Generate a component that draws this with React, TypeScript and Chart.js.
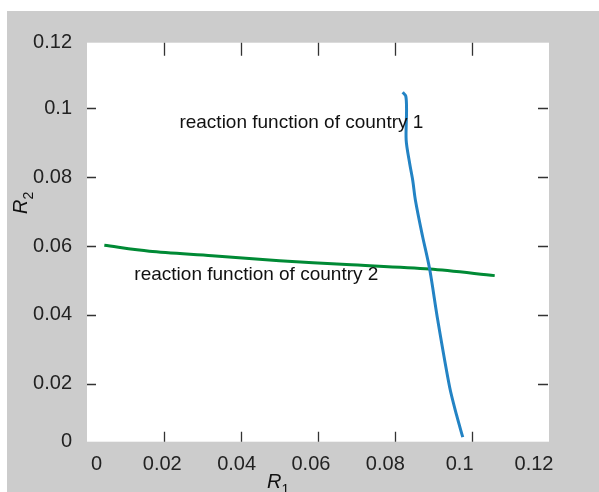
import React, { useEffect, useRef } from "react";
import { Chart, registerables } from "chart.js";

Chart.register(...registerables);

// Reaction function of country 1 (R1 as a function of R2)
const COUNTRY1_R1 = [0.082, 0.0828, 0.083, 0.0829, 0.0838, 0.0846, 0.0853, 0.0871, 0.089, 0.0911, 0.0942, 0.096, 0.0976];
const COUNTRY1_R2 = [0.1046, 0.1035, 0.0994, 0.0907, 0.084, 0.0791, 0.0733, 0.0631, 0.0533, 0.0385, 0.019, 0.0109, 0.0045];

// Reaction function of country 2 (R2 as a function of R1)
const COUNTRY2_R1 = [0.0045, 0.0162, 0.0325, 0.05, 0.0674, 0.089, 0.1059];
const COUNTRY2_R2 = [0.0602, 0.0585, 0.0572, 0.0557, 0.0546, 0.0533, 0.0514];

// Axis tick labels (label positions as drawn in the figure)
const X_TICK_VALUES = [0.0023, 0.02, 0.04, 0.06, 0.08, 0.1, 0.12];
const X_TICK_LABELS = ["0", "0.02", "0.04", "0.06", "0.08", "0.1", "0.12"];
const X_MARK_VALUES = [0.02, 0.04, 0.06, 0.08, 0.1];
const Y_TICK_VALUES = [0.0032, 0.02, 0.04, 0.06, 0.08, 0.1, 0.119];
const Y_TICK_LABELS = ["0", "0.02", "0.04", "0.06", "0.08", "0.1", "0.12"];
const Y_MARK_VALUES = [0.02, 0.04, 0.06, 0.08, 0.1];

const LABEL1 = "reaction function of country 1";
const LABEL2 = "reaction function of country 2";
const LABEL1_POS = { x: 0.024, y: 0.0959 };
const LABEL2_POS = { x: 0.0123, y: 0.0516 };

const FONT = '"Liberation Sans", Arial, Helvetica, sans-serif';

const decorPlugin = {
  id: "decor",
  beforeDraw(chart: any) {
    const { ctx, chartArea, width, height } = chart;
    ctx.save();
    ctx.fillStyle = "#cccccc";
    ctx.fillRect(0, 0, width, height);
    ctx.fillStyle = "#ffffff";
    ctx.fillRect(chartArea.left, chartArea.top, chartArea.right - chartArea.left, chartArea.bottom - chartArea.top);
    ctx.restore();
  },
  afterDraw(chart: any) {
    const { ctx, chartArea } = chart;
    const xs = chart.scales.x;
    const ys = chart.scales.y;
    ctx.save();
    ctx.strokeStyle = "#333333";
    ctx.lineWidth = 1.3;
    ctx.beginPath();
    for (const v of X_MARK_VALUES) {
      const px = Math.round(xs.getPixelForValue(v)) + 0.5;
      ctx.moveTo(px, chartArea.top);
      ctx.lineTo(px, chartArea.top + 13);
      ctx.moveTo(px, chartArea.bottom - 10);
      ctx.lineTo(px, chartArea.bottom);
    }
    for (const v of Y_MARK_VALUES) {
      const py = Math.round(ys.getPixelForValue(v)) + 0.5;
      ctx.moveTo(chartArea.left, py);
      ctx.lineTo(chartArea.left + 9, py);
      ctx.moveTo(chartArea.right - 11, py);
      ctx.lineTo(chartArea.right - 1, py);
    }
    ctx.stroke();

    // in-plot labels
    ctx.fillStyle = "#111111";
    ctx.font = `19px ${FONT}`;
    ctx.textAlign = "left";
    ctx.textBaseline = "middle";
    ctx.fillText(LABEL1, xs.getPixelForValue(LABEL1_POS.x), ys.getPixelForValue(LABEL1_POS.y));
    ctx.fillText(LABEL2, xs.getPixelForValue(LABEL2_POS.x), ys.getPixelForValue(LABEL2_POS.y));

    // x axis title: R1
    ctx.textBaseline = "alphabetic";
    ctx.font = `italic 20px ${FONT}`;
    const xtX = chartArea.left + 180;
    const xtY = chartArea.bottom + 46;
    ctx.fillText("R", xtX, xtY);
    const rw = ctx.measureText("R").width;
    ctx.font = `14px ${FONT}`;
    ctx.fillText("1", xtX + rw, xtY + 6);

    // y axis title: R2 (rotated)
    ctx.translate(20, 203);
    ctx.rotate(-Math.PI / 2);
    ctx.font = `italic 20px ${FONT}`;
    ctx.fillText("R", 0, 0);
    const rw2 = ctx.measureText("R").width;
    ctx.font = `14px ${FONT}`;
    ctx.fillText("2", rw2, 6);
    ctx.restore();
  },
};

export default function App() {
  const ref = useRef<HTMLCanvasElement | null>(null);
  useEffect(() => {
    if (!ref.current) return;
    const chart = new Chart(ref.current, {
      type: "scatter",
      data: {
        datasets: [
          {
            label: LABEL1,
            data: COUNTRY1_R1.map((x, i) => ({ x, y: COUNTRY1_R2[i] })),
            showLine: true,
            borderColor: "#2383c4",
            borderWidth: 3,
            pointRadius: 0,
            tension: 0.3,
            xAxisID: "x",
            yAxisID: "y",
          },
          {
            label: LABEL2,
            data: COUNTRY2_R1.map((x, i) => ({ x, y: COUNTRY2_R2[i] })),
            showLine: true,
            borderColor: "#008a35",
            borderWidth: 3,
            pointRadius: 0,
            tension: 0.3,
            xAxisID: "x",
            yAxisID: "y",
          },
        ],
      },
      options: {
        responsive: false,
        animation: false,
        devicePixelRatio: 1,
        layout: { padding: { top: 31.7, right: 50, left: 0, bottom: 0 } },
        plugins: { legend: { display: false }, tooltip: { enabled: false } },
        scales: {
          x: { type: "linear", min: 0, max: 0.12, display: false },
          xl: {
            type: "linear",
            axis: "x",
            position: "bottom",
            min: -0.00025,
            max: 0.12404,
            grid: { display: false, drawTicks: false },
            border: { display: false },
            afterBuildTicks: (s: any) => {
              s.ticks = X_TICK_VALUES.map((v) => ({ value: v }));
            },
            afterFit: (s: any) => {
              s.height = 50.3;
            },
            ticks: {
              autoSkip: false,
              maxRotation: 0,
              padding: 11,
              color: "#222222",
              font: { family: FONT, size: 20 },
              callback: (_v: any, i: number) => X_TICK_LABELS[i],
            },
          },
          y: {
            type: "linear",
            min: 0.0032,
            max: 0.119,
            grid: { display: false, drawTicks: false },
            border: { display: false },
            afterBuildTicks: (s: any) => {
              s.ticks = Y_TICK_VALUES.map((v) => ({ value: v }));
            },
            afterFit: (s: any) => {
              s.width = 80;
            },
            ticks: {
              autoSkip: false,
              padding: 15,
              color: "#222222",
              font: { family: FONT, size: 20 },
              callback: (_v: any, i: number) => Y_TICK_LABELS[i],
            },
          },
        },
      },
      plugins: [decorPlugin],
    } as any);
    return () => chart.destroy();
  }, []);
  return (
    <canvas
      ref={ref}
      width={592}
      height={481}
      style={{ display: "block", position: "absolute", left: 7, top: 11, width: 592, height: 481 }}
    />
  );
}
